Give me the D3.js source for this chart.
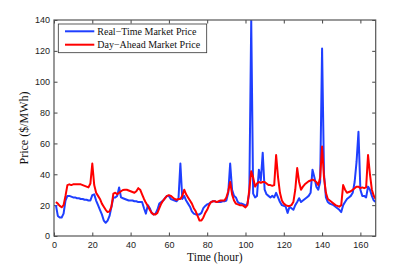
<!DOCTYPE html>
<html>
<head>
    <meta charset="UTF-8">
    <script src="https://d3js.org/d3.v7.min.js"></script>
    <title>Market Price</title>
    <style>
        body{margin:0;background:#fff;}
        .tick text{font-family:"Liberation Sans",Arial,sans-serif;font-size:9px;fill:#222;}
        .domain{display:none;}
        .tick line{stroke:#444;stroke-width:1;}
    </style>
</head>
<body>
<div id="container"></div>
<script>
    // hourly prices ($/MWh), hours 1..168
    var realTime=[20,13,12,12,14.5,23,26,26,25.5,25,
        25,24.5,24.5,24,24,23.5,23.5,23,23,26.5,
        27,23,20,17,14,10,8.6,10,13,19,
        25,25,26,31.5,25,24.5,24,23.5,23,23,
        23,22.5,22.5,22,22,22,18,14.5,20,18,
        15,14,14.5,17,21,22,23,24.5,26,26,
        24,23.5,23,22.5,24,47,24,26,23,21,
        19,16,14.5,14,14,14,15,18,19.5,20.5,
        21,22,22.5,22.5,22,22,22,22.5,22.5,23,
        28,47,30,26,25,22,21,21,20.5,19.5,
        21,28,140,27.5,25,26,43,36,54,30,
        27,26,25,26,25,28,25,22,20,19.5,
        19,15,19,18,17,20,22,24.5,22,23,
        24,25,26,28,43,38,32,30,35,121.5,
        40,25,22,21,20.5,20,19,18,17,15.5,
        20,22,24,25,26,28,35,48,67.5,30,
        26,26,25,32,30,26,23,22]
    var dayAhead=[22,21,19.5,18.6,20,26,33,33.5,33,33.5,
        33.5,33.5,33.5,33.5,33,32.5,32,31.5,34,47,
        33,28,26,24,21,19,17,15.5,16,19,
        27.5,28,27,28,29,29.8,30,30,29.5,29,
        28.5,28,29,31,30,27,24,21.5,19.5,17,
        15,14,14,15,18,21,23,24.5,26,26.5,
        26,25,24,23.5,24,24,26,30,27,25,
        23,21,18,16,13,10,10,12,15,17,
        20,22,22.5,22.5,22,22.5,23,23,23,25,
        29,35,27,23,21,20.5,20,20,19.5,18.5,
        20,30,42,38,32,34,35,34.5,35,35,
        34,33,33,32.5,33,52.5,38,28,23,21,
        20,19.5,19.5,20,22,30,44,35,30,32,
        33.5,34.5,35.5,36,36.5,36,35,33,38,58,
        38,28,24,23,22,21,20,19.5,19,20,
        33,30,28,28.5,29,30,31,32,32,31,
        31.5,31,31.5,52.5,40,30,26,24]
    var seriesNames=['Real\u2212Time Market Price','Day\u2212Ahead Market Price']
    var seriesColors=['#1f3fff','#ff0000']
    var xTicks=[0,20,40,60,80,100,120,140,160]
    var yTicks=[0,20,40,60,80,100,120,140]

    var width=415,height=266,margin={left:54,top:20,right:39.3,bottom:30}
    var g_width=width-margin.left-margin.right,
        g_height=height-margin.top-margin.bottom

    var scale_x=d3.scaleLinear().domain([0,168]).range([0,g_width])
    var scale_y=d3.scaleLinear().domain([0,140]).range([g_height,0])

    var svg=d3.select('#container').append('svg')
        .attr('width',width)
        .attr('height',height)
    var g=svg.append('g')
        .attr('transform','translate('+margin.left+','+margin.top+')')

    g.append('clipPath').attr('id','clip')
        .append('rect').attr('width',g_width).attr('height',g_height)

    //axes, ticks pointing inward on all four sides
    g.append('g').attr('transform','translate(0,'+g_height+')')
        .call(d3.axisBottom(scale_x).tickValues(xTicks).tickSizeInner(-3.5).tickPadding(5.5))
    g.append('g')
        .call(d3.axisTop(scale_x).tickValues(xTicks).tickSizeInner(-3.5).tickFormat(''))
    g.append('g')
        .call(d3.axisLeft(scale_y).tickValues(yTicks).tickSizeInner(-3.5).tickPadding(4))
    g.append('g').attr('transform','translate('+g_width+',0)')
        .call(d3.axisRight(scale_y).tickValues(yTicks).tickSizeInner(-3.5).tickFormat(''))
    g.selectAll('.tick text').attr('fill','#222')

    //lines
    var line=d3.line()
        .x(function(d,i){return scale_x(i+1)})
        .y(function(d){return scale_y(d)})
    var lines=g.append('g').attr('clip-path','url(#clip)')
    ;[realTime,dayAhead].forEach(function(s,k){
        lines.append('path')
            .attr('d',line(s))
            .attr('fill','none')
            .attr('stroke',seriesColors[k])
            .attr('stroke-width',2)
            .attr('stroke-linejoin','round')
    })

    //box
    g.append('rect').attr('width',g_width).attr('height',g_height)
        .attr('fill','none').attr('stroke','#555').attr('stroke-width',1.2)

    //legend
    var lg=g.append('g').attr('transform','translate(4.3,4)')
    lg.append('rect').attr('width',148.4).attr('height',28.7)
        .attr('fill','#fff').attr('stroke','#333').attr('stroke-width',0.8)
    seriesNames.forEach(function(name,k){
        var y=7.3+k*13.4
        lg.append('line').attr('x1',6.7).attr('x2',36).attr('y1',y).attr('y2',y)
            .attr('stroke',seriesColors[k]).attr('stroke-width',2)
        lg.append('text').attr('x',39).attr('y',y+3.5)
            .attr('font-family','"Liberation Serif","Times New Roman",serif')
            .attr('font-size',10).attr('fill','#111')
            .text(name)
    })

    //axis labels
    svg.append('text')
        .attr('x',margin.left+g_width/2).attr('y',260.5)
        .attr('text-anchor','middle')
        .attr('font-family','"Liberation Serif","Times New Roman",serif')
        .attr('font-size',11.5).attr('fill','#111')
        .text('Time (hour)')
    svg.append('text')
        .attr('transform','translate(27.5,'+(margin.top+g_height/2)+') rotate(-90)')
        .attr('text-anchor','middle')
        .attr('font-family','"Liberation Serif","Times New Roman",serif')
        .attr('font-size',12).attr('fill','#111')
        .text('Price ($/MWh)')
</script>
</body>
</html>
